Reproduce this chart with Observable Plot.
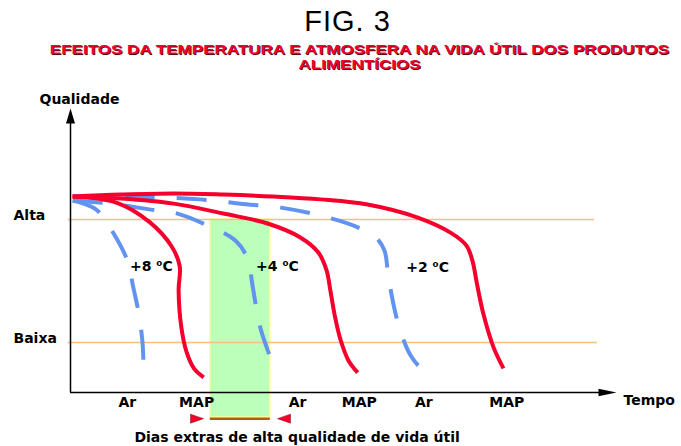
<!DOCTYPE html>
<html><head><meta charset="utf-8">
<script src="https://cdn.jsdelivr.net/npm/d3@7"></script>
<script src="https://cdn.jsdelivr.net/npm/@observablehq/plot@0.6"></script>
<style>
body{margin:0;background:#fff;}
#wrap{width:681px;height:446px;position:relative;overflow:hidden;}
#head{position:relative;height:80px;}
#fig{position:absolute;left:7px;top:7px;width:681px;text-align:center;font:29px/29px "Liberation Sans",Arial,sans-serif;letter-spacing:1px;color:#000;}
#sub{position:absolute;left:19px;top:43px;width:681px;text-align:center;font:bold 12px/15px "Liberation Sans",Arial,sans-serif;color:#f0002a;transform:scaleX(1.42);transform-origin:340.5px 0;text-shadow:0.7px 0.8px 0 #5a0010;}
</style></head>
<body><div id="wrap"><div id="head"><div id="fig">FIG. 3</div><div id="sub">EFEITOS DA TEMPERATURA E ATMOSFERA NA VIDA ÚTIL DOS PRODUTOS<br>ALIMENTÍCIOS</div></div><div id="chart"></div></div>
<script>
// ---- data (time units, quality units) ----
const xDomain = [0, 10];
const yDomain = [0, 10];
const red8MAP = [[0.04,6.9],[0.85,6.68],[1.45,6.0],[1.85,5.15],[2.0,4.45],[1.98,3.6],[2.03,2.3],[2.13,1.4],[2.26,0.85],[2.44,0.53]];
const blue8Ar = [[0.04,6.76],[0.24,6.65],[0.49,6.41],[0.79,5.6],[1.04,4.65],[1.15,3.7],[1.25,2.78],[1.32,1.73],[1.34,0.67]];
const blue4Ar = [[0.04,6.76],[0.73,6.65],[1.47,6.44],[1.96,6.3],[2.51,5.88],[3.02,5.35],[3.26,4.65],[3.32,3.94],[3.39,3.13],[3.48,2.25],[3.66,1.23]];
const red4MAP = [[0.04,6.9],[0.92,6.83],[1.89,6.65],[2.8,6.3],[3.61,5.95],[4.21,5.46],[4.54,4.93],[4.69,4.3],[4.76,3.59],[4.84,2.71],[4.95,1.83],[5.09,1.13],[5.26,0.7]];
const blue2Ar = [[0.04,6.9],[0.92,6.9],[1.65,6.87],[2.38,6.8],[3.11,6.65],[3.85,6.51],[4.58,6.23],[5.22,5.85],[5.59,5.46],[5.75,5.0],[5.82,4.12],[5.92,3.06],[6.04,2.18],[6.23,1.3],[6.41,0.88],[6.59,0.7]];
const red2MAP = [[0.04,6.9],[0.92,6.97],[1.89,7.01],[2.8,6.97],[3.72,6.9],[4.58,6.8],[5.44,6.62],[6.36,6.16],[6.96,5.63],[7.25,5.18],[7.36,4.65],[7.45,3.77],[7.56,2.78],[7.75,1.58],[7.93,0.85]];
const levelLabels = ["Alta", "Baixa"];
const levelValues = [6.09, 1.76];
const levelEnd = [9.6, 9.65];
const tempLabels = ["+8 \u2070C", "+4 \u2070C", "+2 \u2070C"];
const tempX = [1.48, 3.79, 6.54];
const tempY = [4.44, 4.44, 4.40];
const xTickPos = [1.04, 2.31, 4.16, 5.29, 6.47, 7.99];
const xTickLabels = ["Ar", "MAP", "Ar", "MAP", "Ar", "MAP"];
const band = {x1: 2.56, x2: 3.66, y1: -0.88, y2: 6.09};
const bracketY = -0.92;
const bracketMarks = [2.317, 3.91];
const captionText = "Dias extras de alta qualidade de vida útil";
const captionPos = {x: 4.15, y: -1.58};

// ---- styles ----
const RED = "#f5002d", BLUE = "#6293f0", ORANGE = "#f9c07a";
const FONT = "DejaVu Sans, Verdana, sans-serif";
const arrowUp = {draw(c){c.moveTo(0,0);c.lineTo(-4.5,15);c.lineTo(4.5,15);c.closePath();}};
const arrowRight = {draw(c){c.moveTo(0,0);c.lineTo(-18,-3.8);c.lineTo(-18,3.8);c.closePath();}};
const triRight = {draw(c){c.moveTo(6.5,0);c.lineTo(-6.5,-4.5);c.lineTo(-6.5,4.5);c.closePath();}};
const triLeft = {draw(c){c.moveTo(-6.5,0);c.lineTo(6.5,-4.5);c.lineTo(6.5,4.5);c.closePath();}};

const lineOpts = (color, dashed) => ({x: d => d[0], y: d => d[1], curve: "catmull-rom", stroke: color, strokeWidth: 4,
  strokeDasharray: dashed ? "30,22" : null, strokeLinecap: "butt", strokeLinejoin: "round"});
const levels = levelLabels.map((l, i) => ({label: l, v: levelValues[i], end: levelEnd[i]}));
const temps = tempLabels.map((t, i) => ({t, x: tempX[i], y: tempY[i]}));

const chart = Plot.plot({
  width: 681, height: 366,
  marginLeft: 70, marginRight: 65, marginTop: 28, marginBottom: 54,
  x: {domain: xDomain, axis: null},
  y: {domain: yDomain, axis: null},
  style: {fontFamily: FONT, fontSize: "14px", fontWeight: "bold", color: "#000", background: "#fff"},
  marks: [
    Plot.rect([band], {x1: "x1", x2: "x2", y1: "y1", y2: "y2", fill: "#bbffbb", stroke: "#ffff99", strokeWidth: 1.5}),
    Plot.ruleY(levels, {y: "v", x1: -0.04, x2: "end", stroke: ORANGE, strokeWidth: 1.5}),
    Plot.line(blue8Ar, lineOpts(BLUE, true)),
    Plot.line(blue4Ar, lineOpts(BLUE, true)),
    Plot.line(blue2Ar, lineOpts(BLUE, true)),
    Plot.line(red2MAP, lineOpts(RED, false)),
    Plot.line(red4MAP, lineOpts(RED, false)),
    Plot.line(red8MAP, lineOpts(RED, false)),
    Plot.ruleX([xDomain[0]], {y1: yDomain[0], y2: yDomain[1] - 0.4, stroke: "#000", strokeWidth: 1.5}),
    Plot.ruleY([yDomain[0]], {x1: xDomain[0], x2: xDomain[1] - 0.25, stroke: "#000", strokeWidth: 1.5}),
    Plot.dot([{x: xDomain[0], y: yDomain[1]}], {x: "x", y: "y", symbol: arrowUp, fill: "#000", stroke: null}),
    Plot.dot([{x: xDomain[1], y: yDomain[0]}], {x: "x", y: "y", symbol: arrowRight, fill: "#000", stroke: null}),
    Plot.ruleY([bracketY], {x1: band.x1, x2: band.x2, stroke: "#b35f00", strokeWidth: 2.5}),
    Plot.dot([bracketMarks[0]], {x: d => d, y: bracketY, symbol: triRight, fill: RED, stroke: "#8a0010", strokeWidth: 0.5}),
    Plot.dot([bracketMarks[1]], {x: d => d, y: bracketY, symbol: triLeft, fill: RED, stroke: "#8a0010", strokeWidth: 0.5}),
    Plot.text(temps, {x: "x", y: "y", text: "t", fontSize: 14, fontWeight: "bold", fill: "#000"}),
    Plot.text(levels, {y: "v", text: "label", frameAnchor: "left", dx: -57, dy: -4, textAnchor: "start", fontSize: 14, fontWeight: "bold", fill: "#000"}),
    Plot.text(["Qualidade"], {frameAnchor: "top-left", dx: -31, dy: -14, textAnchor: "start", fontSize: 14, fontWeight: "bold", fill: "#000"}),
    Plot.text(["Tempo"], {x: () => xDomain[1], y: () => yDomain[0], dx: 7, dy: 8, textAnchor: "start", fontSize: 14, fontWeight: "bold", fill: "#000"}),
    Plot.text([captionText], {x: () => captionPos.x, y: () => captionPos.y, fontSize: 14, fontWeight: "bold", fill: "#000"}),
    Plot.axisX({ticks: xTickPos, tickFormat: d => xTickLabels[xTickPos.indexOf(d)], tickSize: 0, tickPadding: 5,
      fontSize: 14, fontWeight: "bold", label: null})
  ]
});
document.getElementById("chart").appendChild(chart);
</script>
</body></html>
